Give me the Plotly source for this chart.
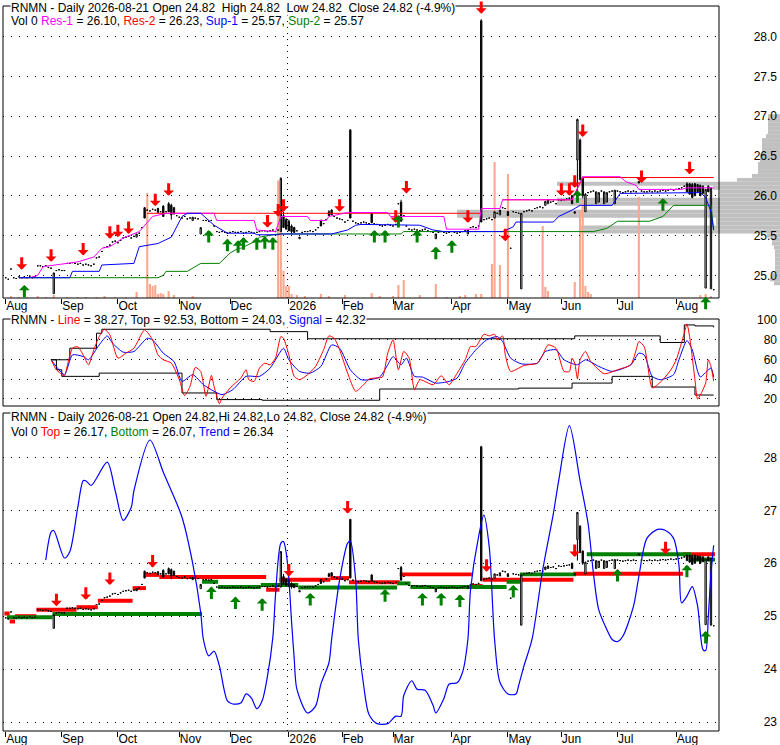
import plotly.graph_objects as go

FONT = "Liberation Sans, Arial, sans-serif"

# trading-day index 0 = 2025-08-01, last = 2026-08-21
month_idx = [0, 21, 42, 65, 84, 106, 126, 145, 167, 188, 208, 229, 251]
month_lbl = ["Aug", "Sep", "Oct", "Nov", "Dec", "2026", "Feb", "Mar", "Apr", "May", "Jun", "Jul", "Aug"]
year_idx = 106

close = [
    24.97, 24.95, 25.08, 24.97, 24.96, 24.98, 24.97, 24.98, 24.97, 24.99,
    24.97, 24.98, 25.12, 25.12, 25.11, 25.12, 25.10, 25.09, 25.03, 25.06,
    25.07, 25.06, 25.06, 25.15, 25.15, 25.16, 25.15, 25.14, 25.15, 25.13,
    25.14, 25.13, 25.12, 25.14, 25.22, 25.23, 25.30, 25.35, 25.36, 25.38,
    25.42, 25.43, 25.41, 25.44, 25.47, 25.48, 25.49, 25.47, 25.49, 25.52,
    25.53, 25.60, 25.72, 25.82, 25.81, 25.83, 25.82, 25.79, 25.80, 25.74,
    25.80, 25.80, 25.76, 25.77, 25.75, 25.73, 25.72, 25.74, 25.71, 25.72,
    25.73, 25.72, 25.71, 25.60, 25.69, 25.69, 25.68, 25.69, 25.62, 25.55,
    25.54, 25.55, 25.54, 25.53, 25.54, 25.55, 25.54, 25.54, 25.55, 25.53,
    25.54, 25.55, 25.54, 25.53, 25.54, 25.55, 25.56, 25.56, 25.55, 25.56,
    25.57, 25.55, 25.57, 26.22, 25.60, 25.58, 25.56, 25.55, 25.54, 25.56,
    25.48, 25.54, 25.55, 25.55, 25.56, 25.55, 25.57, 25.60, 25.62, 25.65,
    25.70, 25.75, 25.76, 25.74, 25.72, 25.71, 25.70, 25.67, 25.69, 25.72,
    25.68, 25.66, 25.65, 25.66, 25.67, 25.66, 25.65, 25.66, 25.65, 25.64,
    25.63, 25.62, 25.63, 25.64, 25.63, 25.62, 25.64, 25.90, 25.68, 25.75,
    25.62, 25.58, 25.57, 25.58, 25.57, 25.56, 25.57, 25.58, 25.56, 25.55,
    25.54, 25.52, 25.54, 25.55, 25.54, 25.53, 25.54, 25.55, 25.54, 25.53,
    25.54, 25.55, 25.56, 25.57, 25.60, 25.61, 25.60, 25.62, 25.67, 25.70,
    25.71, 25.72, 25.70, 25.80, 25.78, 25.82, 25.85, 25.84, 25.75, 25.34,
    25.80, 25.79, 25.78, 25.78, 25.80, 25.81, 25.82, 25.81, 25.84, 25.85,
    25.86, 25.85, 25.93, 25.95, 25.92, 25.93, 25.90, 25.95, 25.94, 25.95,
    25.96, 25.97, 25.90, 25.80, 26.96, 26.20, 26.00, 26.02, 26.04, 26.05,
    26.06, 26.05, 26.04, 26.06, 26.05, 26.04, 26.05, 26.06, 26.07, 26.06,
    26.05, 26.04, 26.05, 26.06, 26.05, 26.06, 26.05, 26.16, 26.06, 26.05,
    26.05, 26.06, 26.05, 26.06, 26.05, 26.06, 26.07, 26.06, 26.07, 26.08,
    26.07, 26.08, 26.09, 26.10, 26.12, 26.05, 26.02, 25.98, 26.00, 26.05,
    26.00, 26.03, 26.08, 26.05, 26.10, 24.82,
]

# days that traded a real range (all other days: open = high = low = close)
bar_idx = [18, 49, 52, 57, 59, 61, 62, 63, 70, 73, 103, 104, 105, 106, 107, 108, 110, 118, 121, 122,
           129, 137, 148, 161, 173, 178, 183, 185, 188, 193, 202, 203, 212, 213, 214, 215, 216, 217, 221, 222,
           224, 225, 228, 237, 255, 256, 257, 258, 259, 260, 261, 262, 263, 264]
bar_open = [24.77, 25.48, 25.85, 25.84, 25.87, 25.90, 25.88, 25.85, 25.69, 25.52,
            25.55, 25.75, 25.70, 25.68, 25.62, 25.60, 25.46, 25.69, 25.80, 25.82,
            26.83, 25.78, 25.92, 25.46, 25.52, 28.20, 25.72, 25.76, 25.80, 24.83,
            25.88, 25.90, 26.00, 25.78, 26.45, 26.70, 26.23, 25.80, 25.90, 25.92,
            25.90, 25.92, 25.90, 26.18, 26.15, 26.15, 26.14, 26.15, 26.14, 26.13,
            26.12, 24.84, 26.12, 24.83]
bar_high = [25.03, 25.52, 25.86, 25.85, 25.88, 25.92, 25.90, 25.86, 25.73, 25.60,
            26.23, 25.80, 25.72, 25.70, 25.64, 25.61, 25.48, 25.70, 25.82, 25.83,
            26.83, 25.79, 25.95, 25.52, 25.57, 28.22, 25.80, 25.82, 25.81, 25.78,
            25.93, 25.95, 26.01, 25.80, 26.97, 26.72, 26.24, 26.03, 26.05, 26.04,
            26.05, 26.04, 26.07, 26.18, 26.17, 26.16, 26.16, 26.16, 26.15, 26.14,
            26.13, 26.08, 26.13, 26.10]
bar_low = [24.77, 25.48, 25.72, 25.79, 25.74, 25.80, 25.70, 25.77, 25.69, 25.52,
           25.55, 25.60, 25.58, 25.56, 25.52, 25.54, 25.46, 25.62, 25.75, 25.76,
           25.72, 25.66, 25.68, 25.46, 25.52, 25.67, 25.72, 25.76, 25.75, 24.83,
           25.88, 25.90, 25.90, 25.78, 26.05, 26.20, 25.97, 25.80, 25.90, 25.92,
           25.90, 25.92, 25.90, 26.16, 26.05, 26.02, 25.97, 26.00, 26.05, 26.00,
           26.03, 24.84, 26.05, 24.83]

vol_idx = [2, 5, 8, 12, 15, 18, 23, 27, 30, 34, 37, 41, 45, 49, 53, 54, 55, 56, 57, 58,
           59, 61, 63, 70, 102, 103, 104, 105, 106, 107, 109, 112, 118, 121, 127, 137, 140, 145, 147, 149,
           155, 161, 165, 170, 172, 176, 178, 182, 183, 185, 188, 201, 202, 203, 213, 215, 216, 217, 218, 219,
           237, 260, 262, 264]
vol_val = [80, 40, 40, 80, 40, 120, 40, 40, 40, 40, 80, 40, 40, 240, 4200, 560, 480, 520, 160, 200,
           160, 280, 120, 80, 4700, 4600, 1100, 480, 480, 160, 120, 80, 160, 80, 120, 200, 80, 80, 520, 720,
           120, 560, 40, 80, 120, 160, 160, 1360, 5440, 1320, 4960, 2880, 440, 280, 640, 3520, 3920, 480, 240, 160,
           4040, 120, 160, 80]

# volume-at-price profile
prof_price = [24.90, 24.95, 25.00, 25.05, 25.10, 25.15, 25.20, 25.25, 25.30, 25.35, 25.40,
              25.45, 25.50, 25.55, 25.60, 25.65, 25.70, 25.75, 25.80, 25.85, 25.90, 25.95,
              26.00, 26.05, 26.10, 26.15, 26.20, 26.25, 26.30, 26.35, 26.40, 26.45, 26.50,
              26.55, 26.60, 26.65, 26.70, 26.75, 26.80, 26.85, 26.90, 26.95, 27.00]
prof_vol = [240, 400, 320, 200, 200, 200, 200, 200, 200, 240, 320,
            320, 520, 8000, 8000, 2560, 2560, 12920, 12920, 2920, 8920, 8920,
            2400, 2400, 2680, 8920, 1720, 1120, 880, 880, 880, 800, 800,
            720, 720, 720, 720, 560, 480, 480, 480, 480, 480]

res1_x = [5, 9, 12, 14, 23, 27, 33, 36, 39, 44, 50, 53, 55, 60, 78, 79, 93, 94, 101, 103,
          113, 114, 120, 121, 128, 143, 144, 164, 165, 177, 178, 185, 186, 212, 216, 230, 232, 236, 237, 253,
          255, 265]
res1_y = [24.97, 24.97, 25.00, 25.11, 25.15, 25.17, 25.23, 25.34, 25.36, 25.47, 25.55, 25.66, 25.74, 25.78,
          25.78, 25.69, 25.69, 25.57, 25.55, 25.74, 25.74, 25.69, 25.69, 25.74, 25.79, 25.79, 25.74, 25.74,
          25.58, 25.58, 25.84, 25.84, 25.95, 25.95, 26.24, 26.24, 26.18, 26.13, 26.08, 26.08, 26.10, 26.10]
res2_x = [53, 178, None, 186, 212, 216, 265]
res2_y = [25.78, 25.78, None, 25.95, 25.95, 26.23, 26.23]
sup1_x = [5, 24, 25, 35, 36, 48, 50, 57, 62, 64, 66, 68, 73, 78, 83, 93, 94, 102, 103, 122,
          128, 131, 133, 155, 160, 164, 186, 190, 191, 205, 207, 212, 215, 227, 230, 260, 262, 264, 265]
sup1_y = [24.97, 24.97, 25.05, 25.05, 25.13, 25.15, 25.36, 25.40, 25.48, 25.62, 25.74, 25.78, 25.78,
          25.63, 25.53, 25.53, 25.51, 25.51, 25.52, 25.52, 25.57, 25.63, 25.64, 25.63, 25.57, 25.55,
          25.55, 25.61, 25.67, 25.67, 25.74, 25.82, 25.88, 25.88, 26.03, 26.04, 25.98, 25.80, 25.57]
sup2_x = [5, 57, 59, 60, 68, 72, 73, 80, 84, 87, 88, 93, 95, 102, 148, 149, 220, 225, 229, 241,
          246, 250, 264, 265]
sup2_y = [24.97, 24.97, 25.00, 25.05, 25.05, 25.13, 25.15, 25.15, 25.28, 25.34, 25.34, 25.42,
          25.48, 25.52, 25.52, 25.55, 25.55, 25.59, 25.68, 25.68, 25.74, 25.88, 25.88, 25.57]

# oscillator panel
osc_line_x = [17, 19, 22, 23, 25, 27, 29, 31, 33, 35, 37, 39, 42, 45, 48, 52, 55, 57, 59, 62,
              65, 67, 69, 71, 73, 75, 77, 78, 80, 81, 84, 88, 90, 91, 93, 95, 97, 99, 101, 103,
              104, 106, 108, 110, 113, 116, 119, 121, 123, 125, 128, 131, 134, 136, 138, 141, 143, 145, 147, 149,
              151, 153, 155, 160, 163, 166, 169, 172, 174, 176, 179, 181, 183, 184, 186, 187, 189, 194, 199, 201,
              203, 206, 209, 211, 212, 213, 214, 215, 217, 219, 224, 229, 231, 234, 236, 237, 239, 242, 244, 246,
              249, 251, 254, 255, 256, 258, 259, 262, 263, 264, 265]
osc_line_y = [59.7, 49.6, 43.5, 53.0, 71.4, 73.0, 64.7, 54.6, 69.8, 83.2, 90.6, 84.9, 61.4, 66.4, 71.4,
              90.0, 79.8, 64.7, 59.7, 56.3, 39.5, 23.4, 32.8, 52.0, 47.9, 22.7, 43.9, 32.8, 15.3, 21.0,
              31.1, 41.2, 49.6, 39.5, 37.8, 51.3, 56.3, 54.6, 61.4, 83.2, 81.5, 64.7, 42.9, 39.5, 44.6,
              53.0, 69.8, 83.9, 81.5, 69.8, 46.2, 27.8, 34.5, 40.2, 41.2, 42.2, 66.4, 79.8, 49.6, 68.1,
              61.4, 29.4, 39.5, 34.5, 43.5, 34.5, 46.2, 59.7, 73.1, 73.1, 85.6, 83.9, 85.6, 79.8, 83.9,
              64.7, 47.9, 53.9, 56.3, 64.7, 74.8, 71.4, 47.9, 47.9, 61.4, 56.3, 40.5, 59.7, 68.1, 58.0,
              45.6, 49.6, 51.3, 54.6, 69.8, 78.2, 73.0, 31.1, 34.5, 39.5, 49.6, 59.7, 86.6, 96.0, 83.2,
              39.5, 20.0, 36.1, 59.7, 53.0, 38.3]
osc_sig_x = [17, 22, 25, 29, 31, 35, 38, 40, 44, 48, 53, 55, 59, 63, 66, 70, 74, 78, 81, 85,
             90, 95, 99, 104, 106, 110, 114, 118, 122, 125, 129, 133, 136, 140, 143, 145, 148, 150, 153, 156,
             161, 166, 169, 172, 176, 180, 184, 186, 189, 193, 199, 202, 206, 209, 214, 217, 222, 227, 234, 237,
             239, 242, 245, 250, 252, 255, 257, 259, 260, 264, 265]
osc_sig_y = [59.7, 44.6, 64.7, 63.0, 59.7, 74.8, 83.9, 76.5, 67.4, 68.1, 81.5, 79.8, 66.4, 58.0, 37.8,
             44.6, 34.5, 27.8, 24.4, 29.4, 42.9, 42.9, 51.3, 71.4, 59.7, 47.9, 46.2, 53.0, 74.8, 71.4,
             49.6, 39.5, 39.5, 42.2, 54.6, 63.0, 54.6, 61.4, 42.9, 42.2, 36.1, 37.8, 41.2, 56.3, 69.8,
             79.8, 83.2, 78.2, 61.4, 55.6, 56.3, 68.1, 69.8, 59.7, 54.6, 59.7, 53.0, 47.9, 54.6, 66.4,
             64.7, 42.9, 39.5, 44.6, 59.7, 79.2, 69.8, 47.9, 42.2, 51.3, 42.3]
osc_top_x = [17, 24, 34, 36, 99, 113, 213, 245, 254, 258, 265]
osc_top_y = [59.7, 71.4, 86.6, 90.6, 88.2, 81.0, 83.9, 77.2, 95.0, 94.0, 92.5]
osc_bot_x = [17, 19, 21, 35, 66, 79, 96, 140, 192, 212, 227, 242, 258, 265]
osc_bot_y = [59.7, 49.6, 42.9, 46.2, 26.1, 19.4, 18.7, 30.1, 31.0, 36.1, 42.9, 32.1, 24.0, 24.0]

# lower panel: top / bottom levels and trend
seg_top_start = [0, 2, 4, 12, 27, 35, 48, 53, 58, 98, 103, 122, 129, 148, 175, 179, 213, 254]
seg_top_end = [2, 4, 12, 27, 35, 48, 53, 58, 98, 103, 122, 129, 148, 175, 179, 213, 254, 266]
seg_top_val = [25.05, 24.90, 25.00, 25.12, 25.17, 25.29, 25.53, 25.78, 25.74, 25.50, 25.69, 25.72,
               25.64, 25.79, 25.57, 25.69, 25.80, 26.17]
seg_bot_start = [1, 18, 74, 80, 96, 110, 147, 152, 188, 193, 218, 257]
seg_bot_end = [18, 74, 80, 96, 110, 147, 152, 188, 193, 214, 257, 266]
seg_bot_val = [24.98, 25.04, 25.65, 25.55, 25.59, 25.54, 25.62, 25.55, 25.65, 25.79, 26.17, 26.07]

trend_x = [15, 17, 18, 22, 24, 27, 29, 30, 32, 38, 41, 44, 47, 48, 54, 59, 62, 66, 70, 73,
           74, 76, 78, 80, 83, 85, 88, 90, 92, 94, 96, 98, 100, 101, 103, 104, 105, 106, 107, 108,
           109, 113, 116, 118, 121, 122, 125, 128, 129, 131, 132, 134, 136, 139, 143, 146, 148, 149, 152, 154,
           157, 160, 161, 164, 166, 169, 171, 173, 174, 177, 179, 181, 183, 185, 188, 191, 192, 194, 197, 201,
           205, 207, 211, 215, 218, 220, 222, 225, 227, 229, 231, 235, 237, 240, 244, 247, 250, 252, 253, 255,
           257, 259, 261, 262, 263, 264, 265]
trend_y = [26.06, 26.59, 26.62, 26.10, 26.22, 27.06, 27.56, 27.56, 27.47, 27.91, 27.37, 26.81, 27.06,
           27.37, 28.33, 27.72, 27.37, 26.87, 26.00, 25.07, 24.56, 24.25, 24.34, 24.06, 23.40, 23.34,
           23.36, 23.53, 23.45, 23.25, 23.40, 23.87, 24.60, 25.40, 26.38, 26.41, 26.20, 25.70, 24.90,
           24.20, 23.62, 23.17, 23.30, 23.72, 24.12, 24.56, 25.69, 26.38, 26.42, 25.69, 24.56, 23.69,
           23.14, 22.97, 22.97, 23.11, 23.11, 23.50, 23.78, 23.62, 23.60, 23.31, 23.17, 23.44, 23.72,
           23.74, 23.94, 24.56, 25.50, 26.50, 26.91, 26.31, 24.56, 23.75, 23.53, 23.53, 23.69, 24.06,
           24.56, 25.87, 26.94, 27.56, 28.60, 27.56, 26.75, 25.81, 25.12, 24.75, 24.56, 24.52, 24.62,
           25.19, 25.75, 26.47, 26.64, 26.62, 26.47, 25.97, 25.25, 25.38, 25.56, 25.19, 24.37, 24.35,
           25.00, 25.81, 26.34]

# buy / sell signal arrows (day index, price at arrow tip)
dn_top_idx = [6, 17, 29, 39, 42, 46, 56, 61, 98, 102, 104, 125, 146, 150, 173, 178, 187, 208, 211, 213, 216, 238, 256]
dn_top_px = [25.07, 25.17, 25.25, 25.46, 25.48, 25.52, 25.87, 26.00, 25.60, 25.74, 25.80, 25.80, 25.66,
             26.03, 25.66, 28.29, 25.43, 26.00, 26.00, 26.10, 26.74, 26.16, 26.27]
up_top_idx = [7, 76, 83, 87, 89, 94, 97, 100, 138, 142, 147, 154, 161, 167, 214, 246, 262]
up_top_px = [24.88, 25.57, 25.46, 25.44, 25.48, 25.48, 25.49, 25.48, 25.57, 25.57, 25.76, 25.57, 25.36,
             25.44, 26.07, 25.97, 24.73]
dn_bot_idx = [19, 30, 39, 55, 106, 128, 180, 213, 247]
dn_bot_px = [25.19, 25.31, 25.59, 25.92, 25.75, 26.94, 25.84, 26.12, 26.17]
up_bot_idx = [77, 86, 96, 114, 142, 156, 163, 170, 190, 229, 255, 262]
up_bot_px = [25.56, 25.37, 25.34, 25.44, 25.51, 25.44, 25.44, 25.41, 25.59, 25.89, 25.97, 24.72]


days = list(range(len(close)))
opens = list(close)
highs = list(close)
lows = list(close)
for i, o, h, l in zip(bar_idx, bar_open, bar_high, bar_low):
    opens[i] = o
    highs[i] = h
    lows[i] = l

W, H = 780, 745
X0, X1 = 3 / W, 719 / W
TOP = [1 - 298 / H, 1 - 6 / H]
MID = [1 - 406 / H, 1 - 319 / H]
BOT = [1 - 731 / H, 1 - 413 / H]

fig = go.Figure()

# profile first so it sits under everything
fig.add_trace(go.Bar(x=prof_vol, y=prof_price, orientation="h", width=0.05,
                     marker=dict(color="#C0C0C0", line=dict(width=0)), xaxis="x", yaxis="y5"))
fig.add_trace(go.Bar(x=vol_idx, y=vol_val, width=0.8,
                     marker=dict(color="#FBA890", line=dict(width=0)), xaxis="x2", yaxis="y"))


def candles(xa, ya):
    return go.Candlestick(x=days, open=opens, high=highs, low=lows, close=close,
                          xaxis=xa, yaxis=ya, whiskerwidth=0,
                          increasing=dict(line=dict(color="black", width=1), fillcolor="white"),
                          decreasing=dict(line=dict(color="black", width=1), fillcolor="black"))


fig.add_trace(candles("x2", "y2"))
for xs, ys, col in [(res2_x, res2_y, "#FF0000"), (res1_x, res1_y, "#FF00FF"),
                    (sup2_x, sup2_y, "#008000"), (sup1_x, sup1_y, "#0000FF")]:
    fig.add_trace(go.Scatter(x=xs, y=ys, mode="lines", line=dict(color=col, width=1),
                             xaxis="x2", yaxis="y2"))

# oscillator
fig.add_trace(go.Scatter(x=osc_top_x, y=osc_top_y, mode="lines", line=dict(color="black", width=1, shape="hv"),
                         xaxis="x3", yaxis="y3"))
fig.add_trace(go.Scatter(x=osc_bot_x, y=osc_bot_y, mode="lines", line=dict(color="black", width=1, shape="hv"),
                         xaxis="x3", yaxis="y3"))
fig.add_trace(go.Scatter(x=osc_sig_x, y=osc_sig_y, mode="lines",
                         line=dict(color="#0000FF", width=1, shape="spline", smoothing=0.6),
                         xaxis="x3", yaxis="y3"))
fig.add_trace(go.Scatter(x=osc_line_x, y=osc_line_y, mode="lines",
                         line=dict(color="#FF0000", width=1, shape="spline", smoothing=0.6),
                         xaxis="x3", yaxis="y3"))

# lower panel
fig.add_trace(go.Bar(y=seg_top_val, x=[e - s for s, e in zip(seg_top_start, seg_top_end)],
                     base=[s - 0.5 for s in seg_top_start], orientation="h", width=0.075,
                     marker=dict(color="#FF0000", line=dict(width=0)), xaxis="x4", yaxis="y4"))
fig.add_trace(go.Bar(y=seg_bot_val, x=[e - s for s, e in zip(seg_bot_start, seg_bot_end)],
                     base=[s - 0.5 for s in seg_bot_start], orientation="h", width=0.075,
                     marker=dict(color="#008000", line=dict(width=0)), xaxis="x4", yaxis="y4"))
fig.add_trace(candles("x4", "y4"))
fig.add_trace(go.Scatter(x=trend_x, y=trend_y, mode="lines",
                         line=dict(color="#0000FF", width=1.2, shape="spline", smoothing=0.8),
                         xaxis="x4", yaxis="y4"))


def arrows(idx, px, xa, ya, color, up):
    for i, p in zip(idx, px):
        fig.add_annotation(x=i, y=p, xref=xa, yref=ya, text="", showarrow=True,
                           arrowhead=1, arrowsize=0.6, arrowwidth=3, arrowcolor=color,
                           ax=0, ay=14 if up else -14, standoff=0)


arrows(dn_top_idx, dn_top_px, "x2", "y2", "#FF0000", False)
arrows(up_top_idx, up_top_px, "x2", "y2", "#008000", True)
arrows(dn_bot_idx, dn_bot_px, "x4", "y4", "#FF0000", False)
arrows(up_bot_idx, up_bot_px, "x4", "y4", "#008000", True)

nb = "\u00a0"
titles = [
    (0, "top", "RNMN - Daily 2026-08-21 Open 24.82" + nb * 2 + "High 24.82" + nb * 2 + "Low 24.82" + nb * 2
     + "Close 24.82 (-4.9%)", True),
    (21, "middle", "Vol 0 <span style='color:#FF00FF'>Res-1</span> = 26.10, <span style='color:#FF0000'>Res-2</span>"
         " = 26.23, <span style='color:#0000FF'>Sup-1</span> = 25.57, <span style='color:#008000'>Sup-2</span>"
         " = 25.57", False),
    (320.5, "middle", "RNMN - <span style='color:#FF0000'>Line</span> = 38.27, Top = 92.53, Bottom = 24.03, "
            "<span style='color:#0000FF'>Signal</span> = 42.32", True),
    (416.5, "middle", "RNMN - Daily 2026-08-21 Open 24.82,Hi 24.82,Lo 24.82, Close 24.82 (-4.9%)", True),
    (431.5, "middle", "Vol 0 <span style='color:#FF0000'>Top</span> = 26.17, <span style='color:#008000'>Bottom</span>"
            " = 26.07, <span style='color:#0000FF'>Trend</span> = 26.34", False),
]
for ypx, yanc, txt, boxed in titles:
    fig.add_annotation(x=10 / W, y=1 - ypx / H, xref="paper", yref="paper", text=txt, showarrow=False,
                       xanchor="left", yanchor=yanc, bgcolor="white" if boxed else None,
                       borderpad=0, font=dict(family=FONT, size=12, color="black"))

shapes = []
for xa, ya in [("x2", "y2"), ("x3", "y3"), ("x4", "y4")]:
    shapes.append(dict(type="line", xref=xa, yref=ya + " domain", x0=year_idx - 0.5, x1=year_idx - 0.5,
                       y0=0, y1=1, line=dict(color="black", width=1, dash="1px,5px"), layer="below"))
    shapes.append(dict(type="rect", xref=xa + " domain", yref=ya + " domain", x0=0, x1=1, y0=0, y1=1,
                       line=dict(color="black", width=1)))

grid = dict(showgrid=True, gridcolor="black", gridwidth=1, griddash="1px,7px", zeroline=False,
            ticks="", anchor="free", position=1.0, side="right", ticklabelposition="inside",
            ticklabeloverflow="allow", showline=False, automargin=False,
            tickfont=dict(family=FONT, size=12, color="black"))
xtime = dict(domain=[X0, X1], range=[-1, 267], showgrid=False, zeroline=False, showline=False,
             rangeslider=dict(visible=False), tickvals=month_idx, ticktext=month_lbl,
             ticks="outside", ticklen=5, tickcolor="black", ticklabelposition="outside right",
             ticklabelstandoff=-3, automargin=False, tickfont=dict(family=FONT, size=12, color="black"))

fig.update_layout(
    width=W, height=H, margin=dict(l=0, r=0, t=0, b=0, autoexpand=False),
    paper_bgcolor="white", plot_bgcolor="rgba(0,0,0,0)",
    showlegend=False, barmode="overlay", font=dict(family=FONT, size=12, color="black"),
    shapes=shapes,
    xaxis=dict(domain=[X0, 1.0], range=[31080, 0], visible=False, anchor="y5"),
    xaxis2=dict(xtime, anchor="y2"),
    xaxis3=dict(xtime, anchor="y3", showticklabels=False, ticks=""),
    xaxis4=dict(xtime, anchor="y4"),
    yaxis=dict(domain=TOP, range=[0, 11680], visible=False, anchor="x2"),
    yaxis2=dict(grid, domain=TOP, range=[24.715, 28.386],
                tickvals=[25.0, 25.5, 26.0, 26.5, 27.0, 27.5, 28.0], tickformat=".1f"),
    yaxis3=dict(grid, domain=MID, range=[12.9, 101.0], tickvals=[20, 40, 60, 80, 100]),
    yaxis4=dict(grid, domain=BOT, range=[22.83, 28.84], tickvals=[23, 24, 25, 26, 27, 28]),
    yaxis5=dict(domain=TOP, matches="y2", visible=False, anchor="x"),
)

# page body has a default 8px margin; drop it so the figure sits at the window origin
fig.write_html("out.html", config={"displayModeBar": False},
               post_script="document.body.style.margin='0px';")
